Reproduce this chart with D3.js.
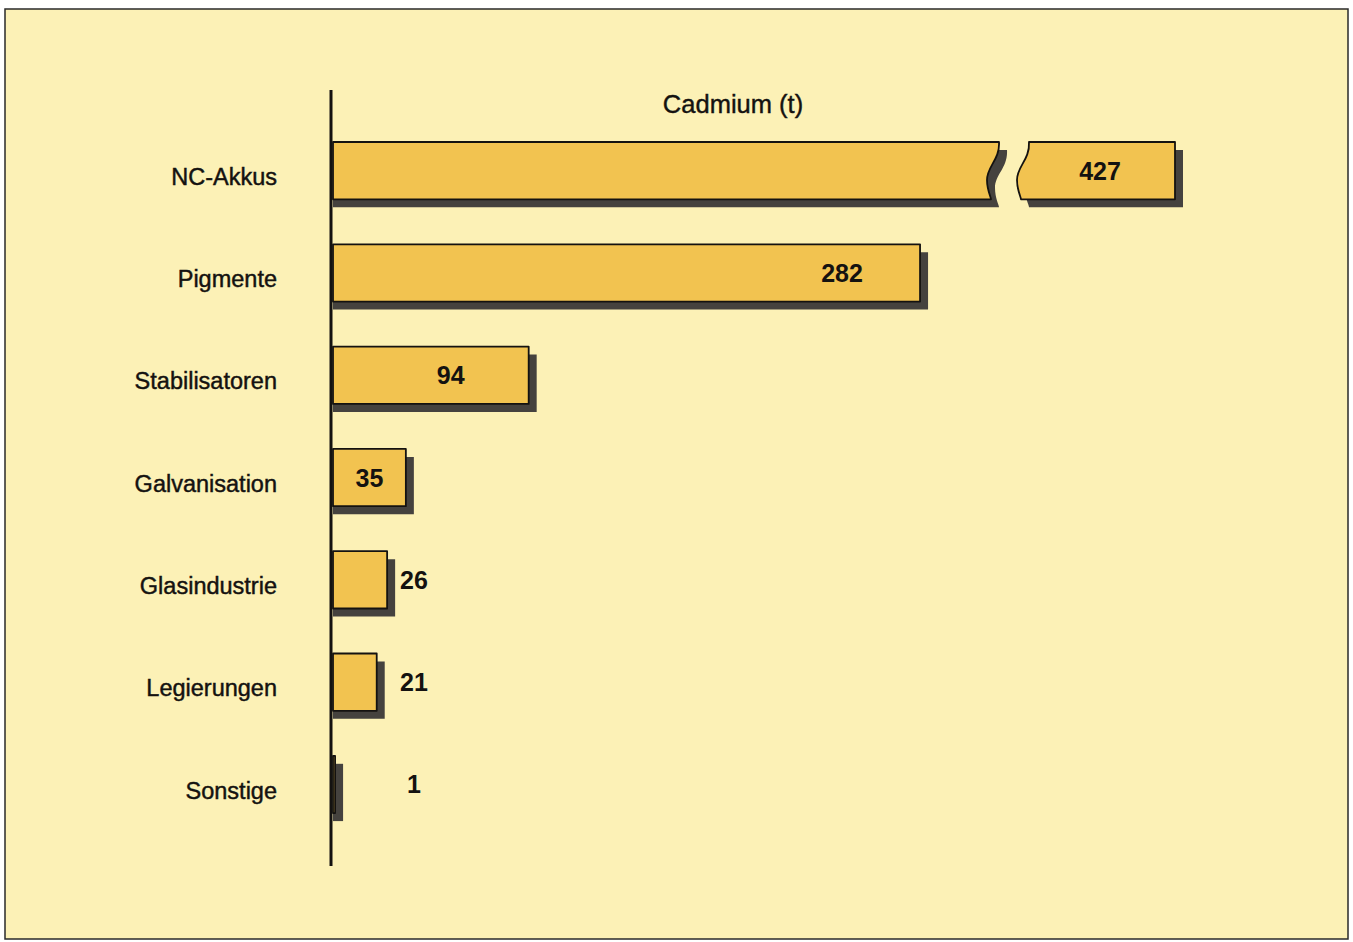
<!DOCTYPE html>
<html>
<head>
<meta charset="utf-8">
<script src="https://cdn.jsdelivr.net/npm/d3@7/dist/d3.min.js"></script>
<style>
  html, body { margin: 0; padding: 0; background: #ffffff; }
  svg { display: block; }
  text { font-family: "Liberation Sans", Arial, Helvetica, sans-serif; fill: #141210; }
</style>
</head>
<body>
<script>
// Cadmium consumption by use (tonnes)
const categories = ["NC-Akkus", "Pigmente", "Stabilisatoren", "Galvanisation", "Glasindustrie", "Legierungen", "Sonstige"];
const values = [427, 282, 94, 35, 26, 21, 1];
const axisBreak = [318, 355];          // value range cut out of the longest bar
const titleText = "Cadmium (t)";

const W = 1353, H = 942;
const svg = d3.select("body").append("svg").attr("width", W).attr("height", H);

// panel
svg.append("rect")
  .attr("x", 5).attr("y", 9).attr("width", 1343).attr("height", 930)
  .attr("fill", "#fcf1b6").attr("stroke", "#2a2a2a").attr("stroke-width", 1.5);

// broken linear scale: identical slope on both sides of the gap
const x = d3.scaleLinear()
  .domain([0, axisBreak[0], axisBreak[1], d3.max(values)])
  .range([333, 995, 1025, 1175]);

const y = d3.scaleBand()
  .domain(categories)
  .range([119.5, 835.6])
  .paddingInner(0.44)
  .paddingOuter(0.22);

const bh = y.bandwidth();
const shadowOff = 8;
const barFill = "#f2c350";
const shadowFill = "#45423e";

// wavy cut edge, from top to bottom at nominal position bx
function waveDown(bx, t, b) {
  return `L${bx + 4},${t} C${bx + 5},${t + 18} ${bx - 8},${t + 24} ${bx - 8},${t + 38} ` +
         `C${bx - 8},${t + 48} ${bx - 4},${b - 2} ${bx - 4},${b}`;
}
function waveUp(bx, t, b) {
  return `L${bx - 4},${b} C${bx - 4},${b - 2} ${bx - 8},${t + 48} ${bx - 8},${t + 38} ` +
         `C${bx - 8},${t + 24} ${bx + 5},${t + 18} ${bx + 4},${t}`;
}

// bar outline(s); with off > 0 the drop shadow: shifted right and down,
// but still starting at the axis on the left
function barShapes(d, i, off) {
  const t = y(categories[i]) + off, b = t + bh, x0 = x(0), xe = x(d) + off;
  if (d > axisBreak[1]) {
    const xl = x(axisBreak[0]) + off, xr = x(axisBreak[1]) + off;
    return [
      `M${x0},${t} ${waveDown(xl, t, b)} L${x0},${b} Z`,
      `M${xe},${t} L${xe},${b} ${waveUp(xr, t, b)} Z`
    ];
  }
  return [`M${x0},${t} L${xe},${t} L${xe},${b} L${x0},${b} Z`];
}

// shadows
svg.append("g")
  .selectAll("path")
  .data(values.flatMap((v, i) => barShapes(v, i, shadowOff)))
  .join("path")
  .attr("d", d => d)
  .attr("fill", shadowFill);

// bars
svg.append("g")
  .selectAll("path")
  .data(values.flatMap((v, i) => barShapes(v, i, 0)))
  .join("path")
  .attr("d", d => d)
  .attr("fill", barFill)
  .attr("stroke", "#141210")
  .attr("stroke-width", 1.8)
  .attr("stroke-linejoin", "round");

// category axis
const yAxis = d3.axisLeft(y).tickSize(0).tickPadding(56);
const ag = svg.append("g").attr("transform", `translate(${x(0)},0)`).call(yAxis);
ag.select(".domain").remove();
ag.selectAll("text")
  .attr("font-size", 23.5)
  .attr("dy", "0.6em")
  .attr("fill", "#141210")
  .attr("stroke", "#141210")
  .attr("stroke-width", 0.45);

// axis line
svg.append("line")
  .attr("x1", 331).attr("x2", 331).attr("y1", 90).attr("y2", 866)
  .attr("stroke", "#141210").attr("stroke-width", 3);

// value labels: inside the bar when it is wide enough, else in a column beside it
svg.append("g")
  .selectAll("text")
  .data(values)
  .join("text")
  .attr("x", v => {
    if (v < 30) return 414;
    if (v > axisBreak[1]) return (x(axisBreak[1]) + x(v)) / 2;
    return Math.max((x(0) + x(v)) / 2, x(v) - 78);
  })
  .attr("y", (v, i) => y(categories[i]) + bh / 2)
  .attr("dy", "0.36em")
  .attr("text-anchor", "middle")
  .attr("font-size", 25)
  .attr("font-weight", "bold")
  .text(v => v);

// title
svg.append("text")
  .attr("x", 733).attr("y", 113)
  .attr("text-anchor", "middle")
  .attr("font-size", 25.5)
  .attr("stroke", "#141210").attr("stroke-width", 0.4)
  .text(titleText);
</script>
</body>
</html>
